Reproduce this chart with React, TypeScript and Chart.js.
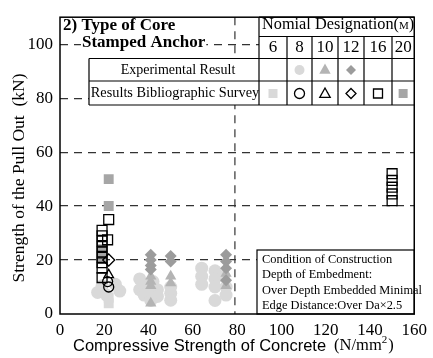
import React, { useEffect, useRef } from 'react';
import { Chart, registerables } from 'chart.js';
Chart.register(...registerables);

const SERIF = '"Liberation Serif", "DejaVu Serif", serif';
const SANS = '"Liberation Sans", Arial, sans-serif';

const xTickValues = [0, 20, 40, 60, 80, 100, 120, 140, 160];
const yTickValues = [0, 20, 40, 60, 80, 100];
const sizeLabels = ['6', '8', '10', '12', '16', '20'];
const refLineX = 79;

// Experimental results
const expM8 = [
  [17, 8], [19, 10.5], [21, 7], [25, 11], [27, 8.5],
  [36, 13], [36, 9], [38, 11], [38, 7], [42, 12], [42, 8], [44, 9], [44, 6.5], [41, 5],
  [50, 10], [50, 7.7], [50, 5.1],
  [64, 17], [64, 14], [64, 11], [70, 16], [70, 13], [70, 10], [70, 5], [75, 10], [75, 7], [74, 14],
];
const expM10 = [[41, 14], [41, 12], [41, 10.5], [41, 4], [50, 14], [50, 11.5], [75, 15], [75, 10.5]];
const expM12 = [[41, 22], [41, 20], [41, 18], [41, 16.5], [50, 21.5], [50, 19.5], [75, 22], [75, 19.5], [75, 17], [75, 12.5]];

// Bibliographic survey results
const surM6 = [[22, 4], [22, 6]];
const surM8 = [[22, 10], [21.5, 12]];
const surM10 = [[22, 14.5]];
const surM12 = [[22, 20]];
const surM16 = [
  [19, 13.5], [19, 17], [19, 19], [19, 21], [19, 23], [19, 25], [19, 27], [19, 29], [19, 31],
  [21.5, 27.5], [22, 35],
  [150, 52], [150, 49.5], [150, 47], [150, 44.5], [150, 42],
];
const surM20 = [[22, 50], [22, 40], [19, 24], [19, 21]];

const conditionLines = [
  'Condition of Construction',
  'Depth of Embedment:',
  'Over Depth Embedded Minimal',
  'Edge Distance:Over Da\u00d72.5',
];

const LIGHT = '#d9d9d9';
const MID = '#b4b4b4';
const DARK = '#9c9c9c';
const SQ = '#a6a6a6';

const pts = (a: number[][]) => a.map(([x, y]) => ({ x, y }));

function drawMarker(ctx: CanvasRenderingContext2D, kind: string, x: number, y: number, r: number, fill: string | null, stroke: string | null) {
  ctx.beginPath();
  if (kind === 'circle') ctx.arc(x, y, r, 0, Math.PI * 2);
  else if (kind === 'triangle') {
    ctx.moveTo(x, y - r);
    ctx.lineTo(x + r * 0.95, y + r * 0.7);
    ctx.lineTo(x - r * 0.95, y + r * 0.7);
    ctx.closePath();
  } else if (kind === 'diamond') {
    ctx.moveTo(x, y - r); ctx.lineTo(x + r, y); ctx.lineTo(x, y + r); ctx.lineTo(x - r, y); ctx.closePath();
  } else {
    ctx.rect(x - r, y - r, 2 * r, 2 * r);
  }
  if (fill) { ctx.fillStyle = fill; ctx.fill(); }
  if (stroke) { ctx.strokeStyle = stroke; ctx.lineWidth = 1.3; ctx.stroke(); }
}

function textBg(ctx: CanvasRenderingContext2D, t: string, x: number, y: number, align: CanvasTextAlign) {
  const w = ctx.measureText(t).width;
  const left = align === 'center' ? x - w / 2 : x;
  ctx.fillStyle = '#fff';
  ctx.fillRect(left - 1, y - 8, w + 2, 16);
  ctx.fillStyle = '#000';
  ctx.textAlign = align;
  ctx.fillText(t, x, y);
}

const overlay = {
  id: 'overlay',
  beforeDatasetsDraw(chart: any) {
    const { ctx, chartArea, scales } = chart;
    const px = scales.x.getPixelForValue(refLineX);
    ctx.save();
    ctx.setLineDash([8, 6]);
    ctx.strokeStyle = '#333';
    ctx.lineWidth = 1.2;
    ctx.beginPath();
    ctx.moveTo(px, chartArea.top);
    ctx.lineTo(px, chartArea.bottom);
    ctx.stroke();
    ctx.restore();
  },
  afterDatasetsDraw(chart: any) {
    const { ctx, chartArea } = chart;
    const { left, right, top, bottom } = chartArea;
    ctx.save();
    ctx.textBaseline = 'middle';

    // Title
    ctx.font = `bold 17px ${SERIF}`;
    textBg(ctx, '2) Type of Core', left + 3, 26, 'left');
    textBg(ctx, 'Stamped Anchor', left + 22, 43, 'left');

    // Table
    const cols = [259, 287, 312, 338, 364, 392, right];
    const rows = [top, 36.5, 58.5, 81, 105];
    const boxL = 89;
    ctx.fillStyle = '#fff';
    ctx.fillRect(cols[0], rows[0], right - cols[0], rows[4] - rows[0]);
    ctx.fillRect(boxL, rows[2], cols[0] - boxL, rows[4] - rows[2]);
    ctx.strokeStyle = '#000';
    ctx.lineWidth = 1.2;
    ctx.setLineDash([]);
    ctx.beginPath();
    ctx.moveTo(cols[0], rows[0]); ctx.lineTo(right, rows[0]);
    ctx.moveTo(cols[0], rows[1]); ctx.lineTo(right, rows[1]);
    ctx.moveTo(boxL, rows[2]); ctx.lineTo(right, rows[2]);
    ctx.moveTo(boxL, rows[3]); ctx.lineTo(right, rows[3]);
    ctx.moveTo(boxL, rows[4]); ctx.lineTo(right, rows[4]);
    ctx.moveTo(boxL, rows[2]); ctx.lineTo(boxL, rows[4]);
    ctx.moveTo(cols[0], rows[0]); ctx.lineTo(cols[0], rows[4]);
    for (let i = 1; i < cols.length - 1; i++) { ctx.moveTo(cols[i], rows[1]); ctx.lineTo(cols[i], rows[4]); }
    ctx.stroke();

    ctx.fillStyle = '#000';
    ctx.textAlign = 'left';
    ctx.font = `16.3px ${SERIF}`;
    const hdr = 'Nomial Designation(';
    ctx.fillText(hdr, 262, 25);
    let hx = 262 + ctx.measureText(hdr).width;
    ctx.font = `11px ${SERIF}`;
    ctx.fillText('M', hx, 26.5);
    hx += ctx.measureText('M').width;
    ctx.font = `16.3px ${SERIF}`;
    ctx.fillText(')', hx, 25);
    ctx.font = `17px ${SERIF}`;
    ctx.textAlign = 'center';
    sizeLabels.forEach((s, i) => ctx.fillText(s, (cols[i] + cols[i + 1]) / 2, 48));

    ctx.font = `14px ${SERIF}`;
    ctx.fillText('Experimental Result', (boxL + cols[0]) / 2 + 4, 70.5);
    ctx.font = `14.3px ${SERIF}`;
    ctx.fillText('Results Bibliographic Survey', (boxL + cols[0]) / 2 + 1, 93.5);

    const cx = (i: number) => (cols[i] + cols[i + 1]) / 2;
    const ey = 70, sy = 93.5;
    drawMarker(ctx, 'circle', cx(1), ey, 5, LIGHT, null);
    drawMarker(ctx, 'triangle', cx(2), ey - 0.5, 6, MID, null);
    drawMarker(ctx, 'diamond', cx(3), ey, 5, DARK, null);
    drawMarker(ctx, 'square', cx(0), sy, 4.5, LIGHT, null);
    drawMarker(ctx, 'circle', cx(1), sy, 5, null, '#000');
    drawMarker(ctx, 'triangle', cx(2), sy, 5.5, null, '#000');
    drawMarker(ctx, 'diamond', cx(3), sy, 5, null, '#000');
    drawMarker(ctx, 'square', cx(4), sy, 4.5, null, '#000');
    drawMarker(ctx, 'square', cx(5), sy, 4.5, SQ, null);

    // Condition box
    const cbL = 257, cbT = 250;
    ctx.fillStyle = '#fff';
    ctx.fillRect(cbL, cbT, right - cbL, bottom - cbT);
    ctx.strokeStyle = '#000';
    ctx.lineWidth = 1.2;
    ctx.strokeRect(cbL, cbT, right - cbL, bottom - cbT);
    ctx.fillStyle = '#000';
    ctx.textAlign = 'left';
    ctx.font = `12.4px ${SERIF}`;
    conditionLines.forEach((t, i) => ctx.fillText(t, cbL + 5, 260 + i * 15.2));

    // Plot border
    ctx.lineWidth = 1.5;
    ctx.strokeRect(left, top, right - left, bottom - top);

    // Y axis title
    ctx.save();
    ctx.translate(19, 178);
    ctx.rotate(-Math.PI / 2);
    ctx.textAlign = 'center';
    ctx.font = `17.5px ${SERIF}`;
    ctx.fillText('Strength of the Pull Out\u2002(kN)', 0, 0);
    ctx.restore();

    // X axis title (mixed fonts)
    const ty = 346;
    ctx.textAlign = 'left';
    ctx.font = `16.5px ${SANS}`;
    const t1 = 'Compressive Strength of Concrete';
    let xx = 73;
    ctx.fillText(t1, xx, ty);
    xx += ctx.measureText(t1).width + 8;
    ctx.font = `16.5px ${SERIF}`;
    const t2 = '(N/mm';
    ctx.fillText(t2, xx, ty);
    xx += ctx.measureText(t2).width;
    ctx.font = `11px ${SERIF}`;
    ctx.fillText('2', xx, ty - 6);
    xx += ctx.measureText('2').width + 1;
    ctx.font = `16.5px ${SERIF}`;
    ctx.fillText(')', xx, ty);

    ctx.restore();
  },
};

export default function App() {
  const ref = useRef<HTMLCanvasElement>(null);
  useEffect(() => {
    if (!ref.current) return;
    const chart = new Chart(ref.current, {
      type: 'scatter',
      data: {
        datasets: [
          { label: 'Exp M8', data: pts(expM8), pointStyle: 'circle', pointRadius: 6.5, backgroundColor: LIGHT, borderColor: LIGHT, borderWidth: 0, order: 10 },
          { label: 'Sur M6', data: pts(surM6), pointStyle: 'rect', pointRadius: 7, backgroundColor: LIGHT, borderColor: LIGHT, borderWidth: 0, order: 9 },
          { label: 'Exp M10', data: pts(expM10), pointStyle: 'triangle', pointRadius: 6.5, backgroundColor: MID, borderColor: MID, borderWidth: 0, order: 8 },
          { label: 'Exp M12', data: pts(expM12), pointStyle: 'rectRot', pointRadius: 6, backgroundColor: DARK, borderColor: DARK, borderWidth: 0, order: 7 },
          { label: 'Sur M20', data: pts(surM20), pointStyle: 'rect', pointRadius: 7, backgroundColor: SQ, borderColor: SQ, borderWidth: 0, order: 6 },
          { label: 'Sur M8', data: pts(surM8), pointStyle: 'circle', pointRadius: 5, backgroundColor: 'rgba(0,0,0,0)', borderColor: '#000', borderWidth: 1.3, order: 5 },
          { label: 'Sur M10', data: pts(surM10), pointStyle: 'triangle', pointRadius: 5.5, backgroundColor: 'rgba(0,0,0,0)', borderColor: '#000', borderWidth: 1.3, order: 4 },
          { label: 'Sur M12', data: pts(surM12), pointStyle: 'rectRot', pointRadius: 6, backgroundColor: 'rgba(0,0,0,0)', borderColor: '#000', borderWidth: 1.3, order: 3 },
          { label: 'Sur M16', data: pts(surM16), pointStyle: 'rect', pointRadius: 7, backgroundColor: 'rgba(0,0,0,0)', borderColor: '#000', borderWidth: 1.3, order: 2 },
        ],
      },
      options: {
        animation: false,
        responsive: false,
        layout: { padding: { top: 13, right: 12, left: 0, bottom: 0 } },
        plugins: { legend: { display: false }, tooltip: { enabled: false } },
        scales: {
          x: {
            type: 'linear',
            min: 0,
            max: 160,
            afterBuildTicks: (axis: any) => { axis.ticks = xTickValues.map((v) => ({ value: v })); },
            afterFit: (axis: any) => { axis.height = 44; },
            grid: { display: false, drawTicks: false },
            border: { display: false },
            ticks: { font: { family: SERIF, size: 17 }, color: '#000', padding: 6, maxRotation: 0 },
          },
          y: {
            type: 'linear',
            min: 0,
            max: 110,
            afterBuildTicks: (axis: any) => { axis.ticks = yTickValues.map((v) => ({ value: v })); },
            afterFit: (axis: any) => { axis.width = 60; },
            grid: {
              drawTicks: false,
              color: (c: any) => (c.tick && c.tick.value === 0 ? 'rgba(0,0,0,0)' : '#333'),
              lineWidth: 1.2,
            },
            border: { display: false, dash: [8, 6] },
            ticks: { font: { family: SERIF, size: 17 }, color: '#000', padding: 7 },
          },
        },
      },
      plugins: [overlay],
    } as any);
    return () => chart.destroy();
  }, []);
  return (
    <div style={{ position: 'fixed', left: 0, top: 0, width: 433, height: 358, background: '#fff' }}>
      <canvas ref={ref} width={433} height={358} />
    </div>
  );
}
